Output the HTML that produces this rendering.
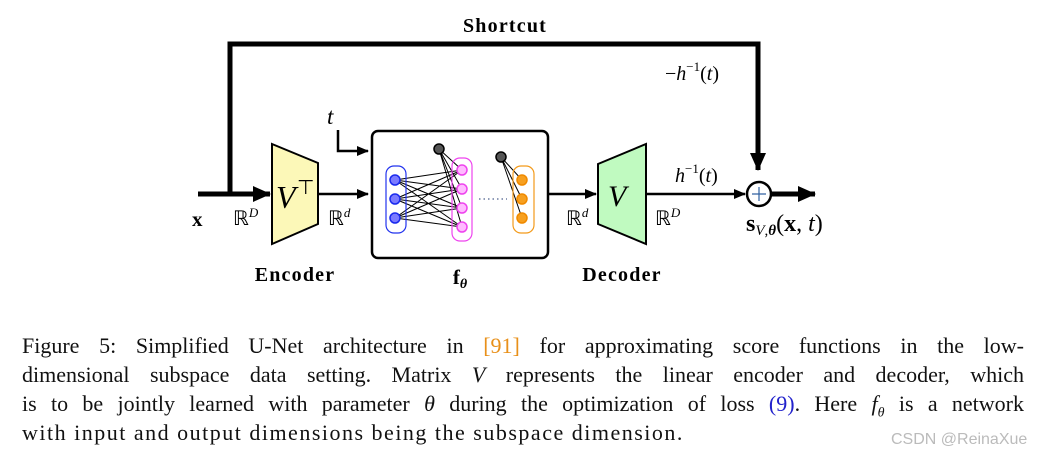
<!DOCTYPE html>
<html><head><meta charset="utf-8"><style>
html,body{margin:0;padding:0;background:#fff;width:1055px;height:457px;overflow:hidden;position:relative}
svg{position:absolute;left:0;top:0}
.cap{position:absolute;left:22px;width:1002px;font-family:"Liberation Serif",serif;font-size:22px;color:#111;text-align:justify;text-align-last:justify;white-space:nowrap;line-height:24px}
.l{text-align-last:left}
.b{color:#22c}.o{color:#e8901a}
i{font-style:italic}
.wm{position:absolute;left:891px;top:431px;font-family:"Liberation Sans",sans-serif;font-size:16px;color:#bbb}
</style></head><body>
<svg width="1055" height="457" viewBox="0 0 1055 457">
<defs>
<marker id="a" markerWidth="12" markerHeight="10" refX="11" refY="5" orient="auto" markerUnits="userSpaceOnUse"><path d="M0,0 L12,5 L0,10z" fill="#000"/></marker>
<marker id="A" markerWidth="18" markerHeight="16" refX="17" refY="8" orient="auto" markerUnits="userSpaceOnUse"><path d="M0,0 L18,8 L0,16z" fill="#000"/></marker>
</defs>
<g font-family="Liberation Serif,serif" fill="#000">
<text x="505" y="32" font-size="20" font-weight="bold" text-anchor="middle" letter-spacing="1.2">Shortcut</text>
<path d="M230,194 V44 H758 V170" stroke="#000" stroke-width="5" fill="none" marker-end="url(#A)"/>
<path d="M198,194 H270" stroke="#000" stroke-width="5" fill="none" marker-end="url(#A)"/>
<polygon points="272,144 318,163 318,224 272,244" fill="#fcf8b8" stroke="#000" stroke-width="2"/>
<text x="276" y="208" font-size="32" font-style="italic">V</text><text x="297" y="194" font-size="20">⊤</text>
<path d="M318,194 H368" stroke="#000" stroke-width="2.5" marker-end="url(#a)"/>
<text x="327" y="124" font-size="23" font-style="italic">t</text>
<path d="M338,130 V151 H368" stroke="#000" stroke-width="2.5" fill="none" marker-end="url(#a)"/>
<text x="192" y="226" font-size="21" font-weight="bold">x</text>
<text x="233" y="225" font-size="20">ℝ<tspan font-size="13" dy="-8" font-style="italic">D</tspan></text>
<text x="328" y="225" font-size="20">ℝ<tspan font-size="13" dy="-8" font-style="italic">d</tspan></text>
<text x="295" y="281" font-size="20" font-weight="bold" text-anchor="middle" letter-spacing="1.2">Encoder</text>
<rect x="372" y="131" width="176" height="127" rx="6" fill="#fff" stroke="#000" stroke-width="2.5"/>
<g stroke="#000" stroke-width="1">
<path d="M395,180L462,170M395,180L462,189M395,180L462,208M395,180L462,227M395,199L462,170M395,199L462,189M395,199L462,208M395,199L462,227M395,218L462,170M395,218L462,189M395,218L462,208M395,218L462,227M439,149L462,170M439,149L462,189M439,149L462,208M439,149L462,227M501,157L522,180M501,157L522,199M501,157L522,218"/>
</g>
<rect x="386" y="166" width="20" height="67" rx="8" fill="none" stroke="#2233ee" stroke-width="1.2"/>
<rect x="452" y="158" width="20" height="83" rx="8" fill="none" stroke="#ee44ee" stroke-width="1.2"/>
<rect x="513" y="166" width="21" height="67" rx="8" fill="none" stroke="#f39a1a" stroke-width="1.2"/>
<g fill="#7b7bff" stroke="#1a2aee" stroke-width="1.5"><circle cx="395" cy="180" r="5"/><circle cx="395" cy="199" r="5"/><circle cx="395" cy="218" r="5"/></g>
<g fill="#ffbaff" stroke="#ee44ee" stroke-width="1.5"><circle cx="462" cy="170" r="5"/><circle cx="462" cy="189" r="5"/><circle cx="462" cy="208" r="5"/><circle cx="462" cy="227" r="5"/></g>
<g fill="#f7a020" stroke="#f08a00" stroke-width="1.5"><circle cx="522" cy="180" r="5"/><circle cx="522" cy="199" r="5"/><circle cx="522" cy="218" r="5"/></g>
<g fill="#555" stroke="#000" stroke-width="1.5"><circle cx="439" cy="149" r="5"/><circle cx="501" cy="157" r="5"/></g>
<path d="M479,199 H507" stroke="#6a7aa0" stroke-width="1.5" stroke-dasharray="1.5 3"/>
<text x="460" y="284" font-size="21" font-weight="bold" text-anchor="middle">f<tspan font-size="14" dy="4" font-style="italic">θ</tspan></text>
<path d="M548,194 H596" stroke="#000" stroke-width="2.5" marker-end="url(#a)"/>
<polygon points="598,164 646,144 646,244 598,224" fill="#c0fac0" stroke="#000" stroke-width="2"/>
<text x="608" y="206" font-size="30" font-style="italic">V</text>
<text x="566" y="225" font-size="20">ℝ<tspan font-size="13" dy="-8" font-style="italic">d</tspan></text>
<text x="655" y="225" font-size="20">ℝ<tspan font-size="13" dy="-8" font-style="italic">D</tspan></text>
<text x="622" y="281" font-size="20" font-weight="bold" text-anchor="middle" letter-spacing="1.2">Decoder</text>
<path d="M646,194 H745" stroke="#000" stroke-width="2.5" marker-end="url(#a)"/>
<text x="675" y="182" font-size="20"><tspan font-style="italic">h</tspan><tspan font-size="13" dy="-9">−1</tspan><tspan dy="9">(</tspan><tspan font-style="italic">t</tspan>)</text>
<text x="665" y="80" font-size="20">−<tspan font-style="italic">h</tspan><tspan font-size="13" dy="-9">−1</tspan><tspan dy="9">(</tspan><tspan font-style="italic">t</tspan>)</text>
<circle cx="759" cy="194" r="12" fill="#fff" stroke="#000" stroke-width="2.5"/>
<path d="M752,194H766M759,187V201" stroke="#3060a0" stroke-width="1.2"/>
<path d="M771,194 H815" stroke="#000" stroke-width="5" marker-end="url(#A)"/>
<text x="746" y="231" font-size="24"><tspan font-weight="bold">s</tspan><tspan font-size="15" dy="4" font-style="italic">V</tspan><tspan font-size="15">,</tspan><tspan font-size="15" font-weight="bold" font-style="italic">θ</tspan><tspan dy="-4">(</tspan><tspan font-weight="bold">x</tspan>, <tspan font-style="italic">t</tspan>)</text>
</g>
</svg>
<div class="cap" style="top:334px">Figure 5: Simplified U-Net architecture in <span class="o">[91]</span> for approximating score functions in the low-</div>
<div class="cap" style="top:363px">dimensional subspace data setting. Matrix <i>V</i> represents the linear encoder and decoder, which</div>
<div class="cap" style="top:392px">is to be jointly learned with parameter <i>θ</i> during the optimization of loss <span class="b">(9)</span>. Here <i>f<sub style="font-size:14px">θ</sub></i> is a network</div>
<div class="cap l" style="top:421px;letter-spacing:1.5px">with input and output dimensions being the subspace dimension.</div>
<div class="wm">CSDN @ReinaXue</div>
</body></html>
